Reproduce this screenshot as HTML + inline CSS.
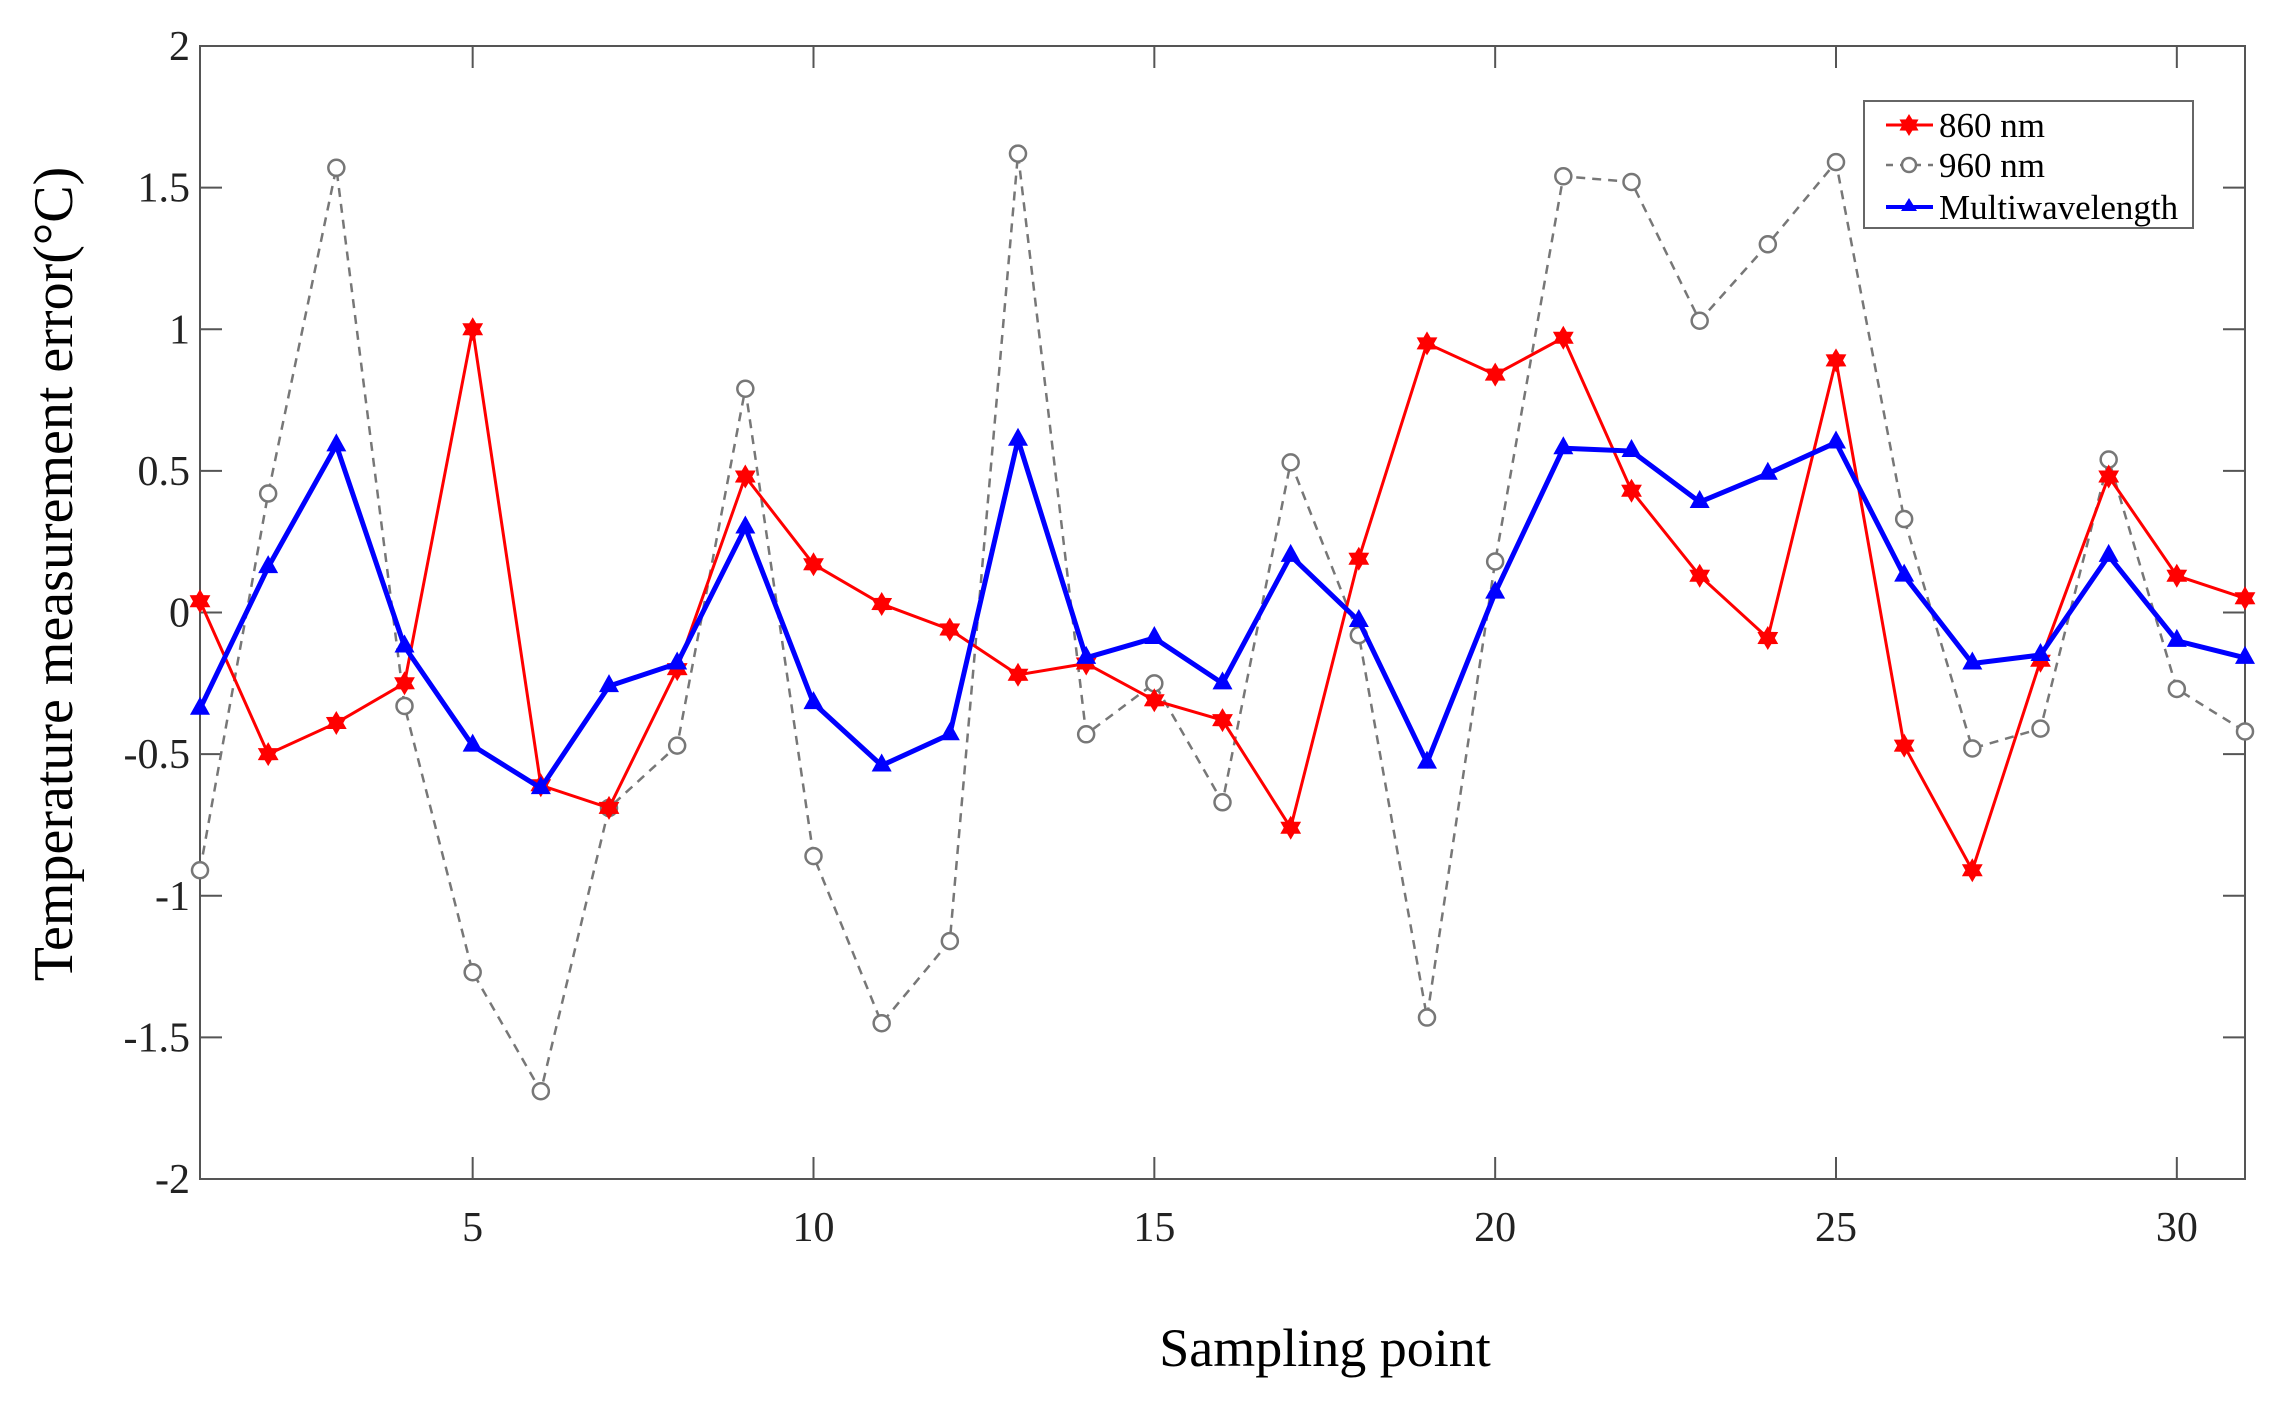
<!DOCTYPE html>
<html><head><meta charset="utf-8"><style>
html,body{margin:0;padding:0;background:#fff;}
svg{display:block;font-family:"Liberation Serif",serif;}
</style></head><body>
<svg id="chart" width="2296" height="1408" viewBox="0 0 2296 1408" xmlns="http://www.w3.org/2000/svg">
<rect x="200" y="46" width="2045" height="1133" fill="#fff" stroke="#555" stroke-width="2"/>
<g id="ticks"></g>
<g id="series"></g>
<text x="72" y="574" font-size="56" text-anchor="middle" transform="rotate(-90 72 574)">Temperature measurement error(°C)</text>
<text x="1325" y="1366" font-size="54" text-anchor="middle">Sampling point</text>
<g>
<rect x="1864" y="101" width="329" height="127" fill="#fff" stroke="#666" stroke-width="2"/>
<g>
<line x1="1886" y1="125" x2="1933" y2="125" stroke="#f00" stroke-width="3"/>
<polygon id="legstar" fill="#f00" points=""/>
<text x="1939" y="137" font-size="35">860 nm</text></g>
<g>
<line x1="1886" y1="165" x2="1933" y2="165" stroke="#777" stroke-width="2.5" stroke-dasharray="7,7"/>
<circle cx="1909" cy="165" r="7" fill="#fff" stroke="#777" stroke-width="2.5"/>
<text x="1939" y="177" font-size="35">960 nm</text></g>
<g>
<line x1="1886" y1="207" x2="1933" y2="207" stroke="#00f" stroke-width="4"/>
<polygon points="1909,198 1917,211 1901,211" fill="#00f"/>
<text x="1939" y="219" font-size="35">Multiwavelength</text></g>
</g>
</svg>
<script>
const xCats=[1,2,3,4,5,6,7,8,9,10,11,12,13,14,15,16,17,18,19,20,21,22,23,24,25,26,27,28,29,30,31];
const s860=[0.04,-0.5,-0.39,-0.25,1.0,-0.61,-0.69,-0.2,0.48,0.17,0.03,-0.06,-0.22,-0.18,-0.31,-0.38,-0.76,0.19,0.95,0.84,0.97,0.43,0.13,-0.09,0.89,-0.47,-0.91,-0.17,0.48,0.13,0.05];
const s960=[-0.91,0.42,1.57,-0.33,-1.27,-1.69,-0.69,-0.47,0.79,-0.86,-1.45,-1.16,1.62,-0.43,-0.25,-0.67,0.53,-0.08,-1.43,0.18,1.54,1.52,1.03,1.30,1.59,0.33,-0.48,-0.41,0.54,-0.27,-0.42];
const sMulti=[-0.34,0.16,0.59,-0.12,-0.47,-0.62,-0.26,-0.18,0.3,-0.32,-0.54,-0.43,0.61,-0.16,-0.09,-0.25,0.2,-0.03,-0.53,0.07,0.58,0.57,0.39,0.49,0.6,0.13,-0.18,-0.15,0.2,-0.1,-0.16];
const xTicks=[5,10,15,20,25,30];
const yTicks=[-2,-1.5,-1,-0.5,0,0.5,1,1.5,2];
const yTickLabels=["-2","-1.5","-1","-0.5","0","0.5","1","1.5","2"];

const L=200,R=2245,T=46,B=1179;
const X=v=>L+(v-1)/30*(R-L);
const Y=v=>B-(v+2)/4*(B-T);
const NS="http://www.w3.org/2000/svg";
function mk(tag,attrs,parent){const e=document.createElementNS(NS,tag);for(const k in attrs)e.setAttribute(k,attrs[k]);parent.appendChild(e);return e;}
function starPts(cx,cy,ro,ri){let p=[];for(let k=0;k<12;k++){const a=-Math.PI/2+k*Math.PI/6;const r=k%2?ri:ro;p.push((cx+r*Math.cos(a)).toFixed(1)+','+(cy+r*Math.sin(a)).toFixed(1));}return p.join(' ');}
document.getElementById('legstar').setAttribute('points',starPts(1909,125,11,6.5));
const tg=document.getElementById('ticks');
xTicks.forEach(t=>{
  const x=X(t);
  const g=mk('g',{},tg);
  
  
  mk('line',{x1:x,y1:B,x2:x,y2:B-22,stroke:'#555','stroke-width':2},g);
  mk('line',{x1:x,y1:T,x2:x,y2:T+22,stroke:'#555','stroke-width':2},g);
  const tx=mk('text',{x:x,y:1241,'font-size':42,'text-anchor':'middle',fill:'#222'},g);
  tx.textContent=t;
});
yTicks.forEach((t,i)=>{
  const y=Y(t);
  const g=mk('g',{},tg);
  
  
  mk('line',{x1:L,y1:y,x2:L+22,y2:y,stroke:'#555','stroke-width':2},g);
  mk('line',{x1:R,y1:y,x2:R-22,y2:y,stroke:'#555','stroke-width':2},g);
  const tx=mk('text',{x:190,y:y+14,'font-size':42,'text-anchor':'end',fill:'#222'},g);
  tx.textContent=yTickLabels[i];
});
const sg=document.getElementById('series');
function pts(arr){return arr.map((v,i)=>X(xCats[i])+','+Y(v)).join(' ');}
const g9=mk('g',{},sg);


mk('polyline',{points:pts(s960),fill:'none',stroke:'#777','stroke-width':2.5,'stroke-dasharray':'9,7'},g9);
s960.forEach((v,i)=>{
  const c=mk('circle',{cx:X(xCats[i]),cy:Y(v),r:8,fill:'#fff',stroke:'#777','stroke-width':2.5},g9);
  
  
});
const g8=mk('g',{},sg);


mk('polyline',{points:pts(s860),fill:'none',stroke:'#f00','stroke-width':3},g8);
s860.forEach((v,i)=>{
  const p=mk('polygon',{points:starPts(X(xCats[i]),Y(v),12,7),fill:'#f00'},g8);
  
  
});
const gm=mk('g',{},sg);


mk('polyline',{points:pts(sMulti),fill:'none',stroke:'#00f','stroke-width':5},gm);
sMulti.forEach((v,i)=>{
  const x=X(xCats[i]),y=Y(v);
  const p=mk('polygon',{points:`${x},${y-12} ${x+10},${y+6} ${x-10},${y+6}`,fill:'#00f'},gm);
  
  
});
</script>
</body></html>
